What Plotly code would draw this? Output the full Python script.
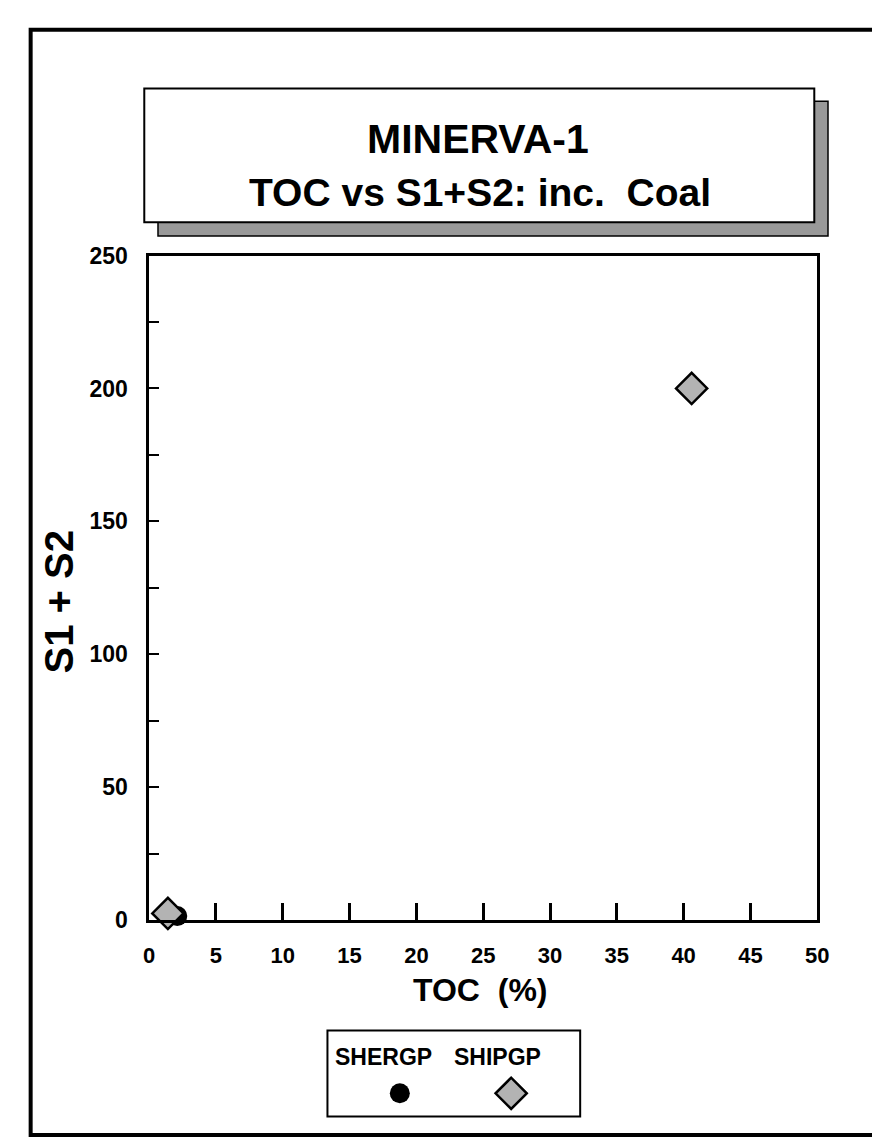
import plotly.graph_objects as go

# 数据
series_names = ['SHERGP', 'SHIPGP']
shergp_toc = [2.1]
shergp_s1s2 = [1.5]
shipgp_toc = [1.4, 40.6]
shipgp_s1s2 = [2.5, 200]

x_ticks = list(range(0, 51, 5))
y_ticks = list(range(0, 251, 25))
y_labels = [str(v) if v % 50 == 0 else '' for v in y_ticks]

title_lines = ['MINERVA-1', 'TOC vs S1+S2: inc.\u00a0\u00a0Coal']
x_title = 'TOC\u00a0\u00a0(%)'
y_title = 'S1 + S2'

W, H = 880, 1144
FONT = 'Liberation Sans'


def px(x):
    # 像素 -> paper 坐标
    return x / W


def py(y):
    return 1 - y / H


def bold(size):
    return dict(family=FONT, size=size, color='black', weight='bold')


diamond_marker = dict(symbol='diamond', size=24, color='#b3b3b3',
                      line=dict(color='black', width=2.5))
circle_marker = dict(symbol='circle', size=20, color='black')

fig = go.Figure()

# 数据点
fig.add_trace(go.Scatter(
    x=shergp_toc, y=shergp_s1s2, mode='markers', name=series_names[0],
    marker=circle_marker, cliponaxis=False
))
fig.add_trace(go.Scatter(
    x=shipgp_toc, y=shipgp_s1s2, mode='markers', name=series_names[1],
    marker=diamond_marker, cliponaxis=False
))

# 图例（文字在上，符号在下）
fig.add_trace(go.Scatter(x=[0], y=[0.27], xaxis='x2', yaxis='y2',
                         mode='markers', marker=circle_marker))
fig.add_trace(go.Scatter(x=[1], y=[0.27], xaxis='x2', yaxis='y2',
                         mode='markers', marker=diamond_marker))

shapes = [
    # 外框
    dict(type='rect', xref='paper', yref='paper',
         x0=px(17), x1=px(900), y0=py(1140), y1=py(9),
         line=dict(color='black', width=4)),
    # 标题阴影
    dict(type='rect', xref='paper', yref='paper',
         x0=px(147), x1=px(831), y0=py(220), y1=py(82),
         fillcolor='#999999', line=dict(color='black', width=1.5)),
    # 标题框
    dict(type='rect', xref='paper', yref='paper',
         x0=px(133), x1=px(817), y0=py(206), y1=py(69),
         fillcolor='white', line=dict(color='black', width=2)),
    # 图例框
    dict(type='rect', xref='paper', yref='paper',
         x0=px(320), x1=px(578), y0=py(1121), y1=py(1033),
         line=dict(color='black', width=2)),
]

annotations = [
    dict(text=title_lines[0], x=px(474), y=py(121), font=bold(41)),
    dict(text=title_lines[1], x=px(476), y=py(175), font=bold(39)),
    dict(text=x_title, x=px(476), y=py(992), font=bold(32)),
    dict(text=y_title, x=px(46), y=py(595), textangle=-90, font=bold(40)),
]
for a in annotations:
    a.update(xref='paper', yref='paper', showarrow=False,
             xanchor='center', yanchor='middle')

for i, name in enumerate(series_names):
    annotations.append(dict(
        text=name, xref='x2', yref='y2', x=i - (0.15 if i == 0 else 0.12),
        y=0.69, showarrow=False, xanchor='center', yanchor='middle',
        font=bold(23)))

fig.update_layout(
    width=W, height=H, autosize=False,
    margin=dict(l=0, r=0, t=0, b=0),
    paper_bgcolor='white', plot_bgcolor='white',
    showlegend=False,
    xaxis=dict(
        domain=[px(138), px(820)], range=[0, 50],
        tickvals=x_ticks, ticks='inside', ticklen=17, tickwidth=2.5, tickcolor='black',
        showline=True, linecolor='black', linewidth=2.5, mirror=True,
        showgrid=False, zeroline=False, ticklabelstandoff=14,
        tickfont=bold(22),
    ),
    yaxis=dict(
        domain=[py(920), py(240)], range=[0, 250],
        tickvals=y_ticks, ticktext=y_labels, ticks='inside', ticklen=10,
        tickwidth=2, tickcolor='black',
        showline=True, linecolor='black', linewidth=2.5, mirror=True,
        showgrid=False, zeroline=False, ticklabelstandoff=14,
        tickfont=bold(23),
    ),
    xaxis2=dict(domain=[px(320), px(578)], range=[-0.65, 1.62], visible=False,
                anchor='y2'),
    yaxis2=dict(domain=[py(1121), py(1033)], range=[0, 1], visible=False,
                anchor='x2'),
    shapes=shapes,
    annotations=annotations,
)

fig.write_html('out.html')
